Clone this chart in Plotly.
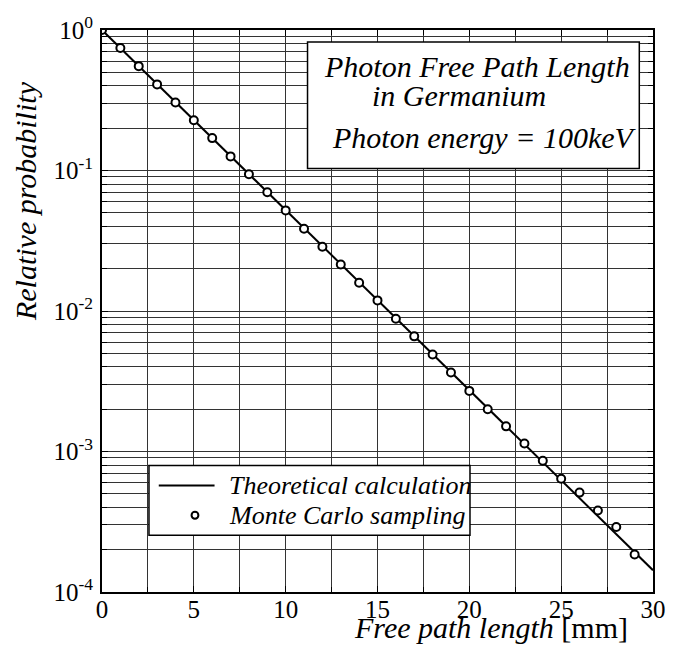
import plotly.graph_objects as go

# ---- data ----
path_mm = list(range(30))
mc_prob = [1.0, 0.745, 0.553, 0.41, 0.305, 0.228, 0.17, 0.126, 0.094, 0.070,
           0.052, 0.0385, 0.0287, 0.0214, 0.0159, 0.0119, 0.0088, 0.0066, 0.0049, 0.00365,
           0.0027, 0.0020, 0.00151, 0.00114, 0.00086, 0.00064, 0.00051, 0.00038, 0.00029, 0.000185]
theory_x = [0, 30]
theory_y = [1.0, 1.43e-4]

x_ticks = [0, 5, 10, 15, 20, 25, 30]
x_labels = ["0", "5", "10", "15", "20", "25", "30"]
x_minor = [2.5, 7.5, 12.5, 17.5, 22.5, 27.5]
y_ticks = [1e-4, 1e-3, 1e-2, 1e-1, 1.0]
y_labels = ["10<sup>-4</sup>", "10<sup>-3</sup>", "10<sup>-2</sup>", "10<sup>-1</sup>", "10<sup>0</sup>"]
mantissas = [2, 3, 4, 5, 6, 7, 8, 9]

legend_names = ["Theoretical calculation", "Monte Carlo sampling"]
box_texts = ["Photon Free Path Length", "in Germanium", "Photon energy = 100keV"]

y_minor = [m * d for d in y_ticks[:-1] for m in mantissas]

FONT = "Liberation Serif"
W, H = 678, 654
L, R, T, B = 102, 13, 28, 62
PW, PH = W - L - R, H - T - B


def px2paper(px, py):
    return (px - L) / PW, (H - B - py) / PH


fig = go.Figure()
fig.add_trace(go.Scatter(
    x=theory_x, y=theory_y, mode="lines",
    line=dict(color="black", width=2),
    name=legend_names[0], showlegend=False))
fig.add_trace(go.Scatter(
    x=path_mm, y=mc_prob, mode="markers",
    marker=dict(symbol="circle", size=8, color="white",
                line=dict(color="black", width=2)),
    name=legend_names[1], showlegend=False))

axis_common = dict(
    showline=True, linecolor="black", linewidth=2, mirror="allticks",
    ticks="inside", ticklen=6, tickwidth=1.2, tickcolor="black",
    showgrid=True, gridcolor="#333333", gridwidth=1, zeroline=False,
    tickfont=dict(family=FONT, size=25, color="black"),
)
minor_common = dict(tickmode="array", ticks="inside", ticklen=5, tickwidth=1,
                    tickcolor="black", showgrid=True, gridcolor="#333333", gridwidth=1)

fig.update_xaxes(range=[0, 30], tickmode="array", tickvals=x_ticks, ticktext=x_labels,
                 ticklabelstandoff=-6, minor=dict(tickvals=x_minor, **minor_common),
                 **axis_common)
fig.update_yaxes(type="log", range=[-4, 0], tickmode="array", tickvals=y_ticks,
                 ticktext=y_labels, ticklabelstandoff=2,
                 minor=dict(tickvals=y_minor, **minor_common), **axis_common)

# title box
x0, y1 = px2paper(312, 40)
x1, y0 = px2paper(651, 167)
fig.add_shape(type="rect", xref="paper", yref="paper", x0=x0, x1=x1, y0=y0, y1=y1,
              line=dict(color="black", width=1.5), fillcolor="white", layer="above")

box_pos = [(327, 65), (376, 94), (335, 136)]
for txt, (px, py) in zip(box_texts, box_pos):
    ax, ay = px2paper(px, py)
    fig.add_annotation(text=f"<i>{txt}</i>", xref="paper", yref="paper", x=ax, y=ay,
                       xanchor="left", yanchor="middle", showarrow=False,
                       font=dict(family=FONT, size=30, color="black"))

# legend box (drawn to match the reference's compact legend)
x0, y1 = px2paper(150, 465)
x1, y0 = px2paper(478, 535)
fig.add_shape(type="rect", xref="paper", yref="paper", x0=x0, x1=x1, y0=y0, y1=y1,
              line=dict(color="black", width=1.5), fillcolor="white", layer="above")
ax0, ay = px2paper(160, 485)
ax1, _ = px2paper(217, 485)
fig.add_shape(type="line", xref="paper", yref="paper", x0=ax0, x1=ax1, y0=ay, y1=ay,
              line=dict(color="black", width=2), layer="above")
cx0, cy1 = px2paper(193.5, 511.5)
cx1, cy0 = px2paper(200.5, 518.5)
fig.add_shape(type="circle", xref="paper", yref="paper", x0=cx0, x1=cx1, y0=cy0, y1=cy1,
              line=dict(color="black", width=2), fillcolor="white", layer="above")
for txt, py in zip(legend_names, [485, 515]):
    ax, ay = px2paper(230, py)
    fig.add_annotation(text=f"<i>{txt}</i>", xref="paper", yref="paper", x=ax, y=ay,
                       xanchor="left", yanchor="middle", showarrow=False,
                       font=dict(family=FONT, size=26, color="black"))

# axis titles
ax, ay = px2paper(642, 628)
fig.add_annotation(text="<i>Free path length</i> [mm]", xref="paper", yref="paper",
                   x=ax, y=ay, xanchor="right", yanchor="middle", showarrow=False,
                   font=dict(family=FONT, size=30, color="black"))
ax, ay = px2paper(24, 200)
fig.add_annotation(text="<i>Relative probability</i>", xref="paper", yref="paper",
                   x=ax, y=ay, xanchor="center", yanchor="middle", textangle=-90,
                   showarrow=False, font=dict(family=FONT, size=30, color="black"))

fig.update_layout(
    width=W, height=H,
    margin=dict(l=L, r=R, t=T, b=B, pad=0),
    paper_bgcolor="white", plot_bgcolor="white",
    font=dict(family=FONT, color="black"),
    showlegend=False,
)

fig.write_html("out.html")
